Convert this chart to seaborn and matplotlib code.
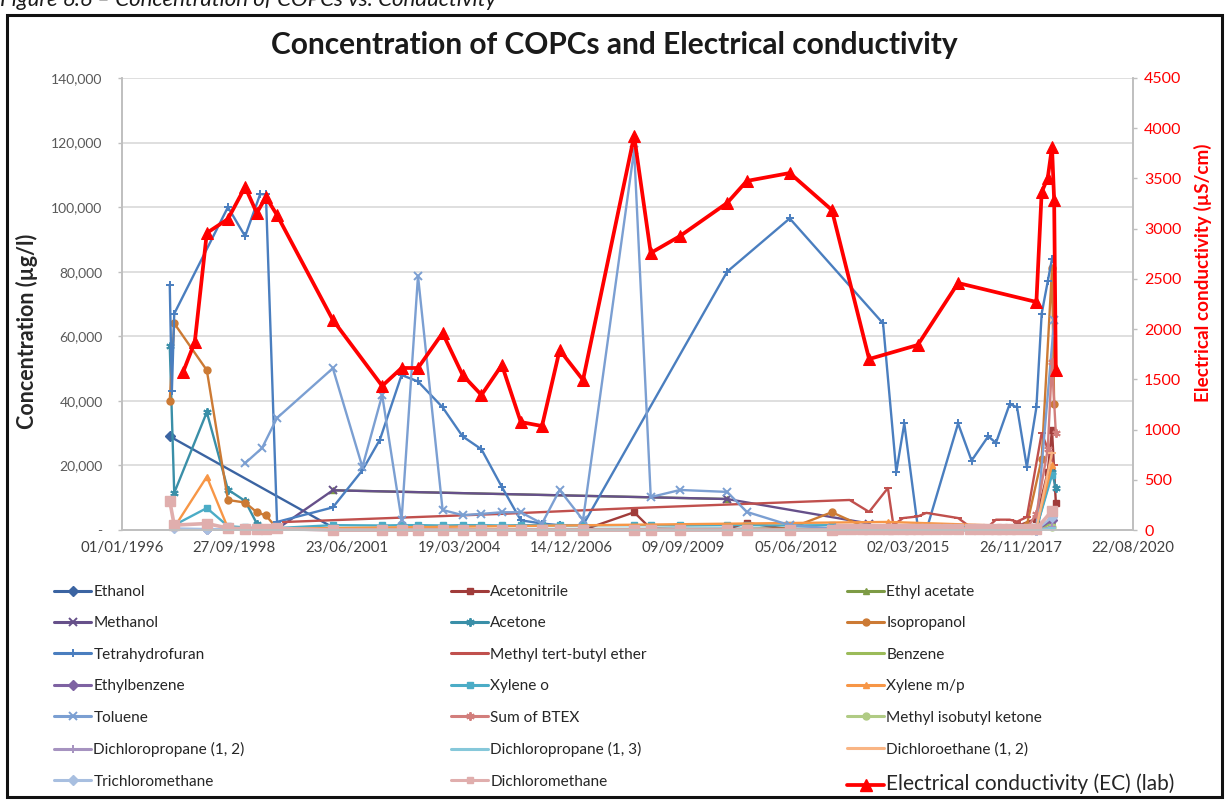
import pandas as pd
import matplotlib
matplotlib.use("Agg")
import matplotlib.pyplot as plt
from matplotlib.lines import Line2D
from matplotlib.patches import Rectangle
from matplotlib.ticker import FuncFormatter, MultipleLocator
import matplotlib.dates as mdates
import seaborn as sns

sns.set_theme(style="white")
plt.rcParams["font.family"] = ["Lato", "DejaVu Sans"]

# ---------------------------------------------------------------- data
early_dates = ["1997-03-01", "1997-04-10", "1998-01-25", "1998-08-01",
               "1999-01-01", "1999-04-15", "1999-07-05", "1999-10-12"]
mid_dates = ["2001-02-20", "2002-05-05", "2002-10-25", "2003-03-20", "2003-10-25",
             "2004-04-20", "2004-10-05", "2005-04-05", "2005-09-20", "2006-03-28",
             "2006-09-01", "2007-03-28", "2008-06-25", "2008-11-20", "2009-08-08",
             "2010-10-01", "2011-03-25", "2012-04-10", "2013-04-20"]
late_dates = ["2013-07-15", "2013-10-10", "2014-01-15", "2014-03-18", "2014-06-10",
              "2014-09-01", "2014-10-20", "2015-01-15", "2015-03-20", "2015-05-25",
              "2015-08-10", "2015-11-05", "2016-02-10", "2016-05-18", "2016-09-01",
              "2016-11-20", "2017-02-10", "2017-04-20", "2017-06-15", "2017-08-20",
              "2017-10-25", "2018-01-20", "2018-04-15"]

ethanol_dates = ["1997-03-01", "2001-02-20"]
ethanol_vals = [29000, 800]

acetonitrile_dates = ["2001-02-20", "2003-03-20", "2005-04-05", "2007-03-28", "2008-06-25",
                      "2008-11-20", "2009-08-08", "2010-10-01", "2011-03-25", "2012-04-10",
                      "2013-04-20", "2016-05-18", "2017-10-25", "2018-04-15", "2018-07-25",
                      "2018-09-01", "2018-10-05"]
acetonitrile_vals = [0, 0, 0, 0, 5500, 400, 300, 300, 2200, 200, 300, 200, 1200, 3500,
                     18000, 31000, 8500]

ethyl_acetate_dates = ["2001-02-20", "2010-10-01"]
ethyl_acetate_vals = [12300, 9600]

methanol_dates = ["1999-10-12", "2001-02-20", "2010-10-01", "2014-03-18"]
methanol_vals = [300, 12300, 9600, 2000]

acetone_dates = early_dates + ["2001-02-20", "2018-04-15", "2018-09-01", "2018-10-05"]
acetone_vals = [57000, 11500, 36500, 12500, 9000, 2000, 600, 300, 200, 500, 18000, 13000]

isopropanol_dates = early_dates + ["2001-02-20", "2003-10-25", "2006-03-28", "2009-08-08",
                                   "2012-04-10", "2013-04-20", "2014-03-18", "2018-01-20",
                                   "2018-06-01", "2018-09-01", "2018-09-20"]
isopropanol_vals = [40000, 64000, 49500, 9300, 8500, 5500, 4500, 500,
                    0, 0, 0, 0, 500, 5500, 300, 1500, 22000, 81000, 39000]

thf_dates = ["1997-03-01", "1997-03-20", "1997-04-10", "1998-08-01", "1999-01-01",
             "1999-05-15", "1999-07-05", "1999-10-12", "2001-02-20", "2001-11-10",
             "2002-04-15", "2002-10-25", "2003-03-20", "2003-10-25", "2004-04-20",
             "2004-10-05", "2005-04-05", "2005-09-20", "2006-03-28", "2006-09-01",
             "2007-03-28", "2010-10-01", "2012-04-10", "2014-07-20", "2014-11-15",
             "2015-01-25", "2015-05-25", "2015-08-10", "2016-05-18", "2016-09-15",
             "2017-02-10", "2017-04-20", "2017-08-20", "2017-10-25", "2018-01-20",
             "2018-04-15", "2018-06-01", "2018-07-25", "2018-09-01"]
thf_vals = [76000, 43000, 67000, 100000, 91000, 104000, 104000, 2500, 7000, 18500,
            28000, 48000, 46000, 38000, 29000, 25000, 13300, 3000, 2000, 1500,
            1500, 80000, 96500, 64000, 18000, 33000, 1000, 0, 33000, 21500,
            29000, 27000, 39000, 38000, 19500, 38000, 67000, 77000, 84000]

mtbe_dates = ["2000-01-01", "2005-04-05", "2008-06-25", "2013-09-25", "2014-03-18",
              "2014-09-01", "2014-10-20", "2015-01-15", "2015-05-25", "2015-08-10",
              "2016-05-18", "2016-09-01", "2017-02-10", "2017-04-20", "2017-08-20",
              "2017-10-25", "2018-01-20", "2018-06-01", "2018-09-20"]
mtbe_vals = [2500, 5000, 6800, 9300, 5600, 13000, 1500, 3700, 4200, 5300, 3700, 1000,
             1000, 3200, 3200, 2600, 4000, 30000, 20000]

benzene_dates = ["1998-01-25", "2018-04-15", "2018-09-01"]
benzene_vals = [100, 0, 2000]

ethylbenzene_dates = ["1998-01-25", "2001-02-20", "2018-04-15", "2018-09-01"]
ethylbenzene_vals = [200, 0, 0, 3000]

xylene_o_dates = early_dates[1:] + mid_dates + ["2018-04-15", "2018-09-01"]
xylene_o_vals = [1500, 6800, 1200, 800, 600, 600, 600,
                 1500, 1400, 1500, 1500, 1400, 1500, 1500, 1400, 1500, 1500,
                 1400, 1500, 1500, 1500, 1400, 1500, 1500, 1400, 1500, 500, 17000]

xylene_mp_dates = ["1997-04-10", "1998-01-25", "1998-08-01", "1999-01-01", "2014-09-01",
                   "2018-04-15", "2018-09-01"]
xylene_mp_vals = [800, 16500, 600, 300, 2500, 1000, 20000]

toluene_dates = ["1999-01-01", "1999-06-01", "1999-10-12", "2001-02-20", "2001-11-10",
                 "2002-05-05", "2002-10-25", "2003-03-20", "2003-10-25", "2004-04-20",
                 "2004-10-05", "2005-04-05", "2005-09-20", "2006-03-28", "2006-09-01",
                 "2007-03-28", "2008-06-25", "2008-11-20", "2009-08-08", "2010-10-01",
                 "2011-03-25", "2012-04-10", "2013-04-20", "2015-05-25", "2018-04-15",
                 "2018-09-20"]
toluene_vals = [20700, 25400, 34700, 50100, 19500, 41800, 3100, 78700, 6200, 4600,
                5000, 5500, 5500, 2000, 12400, 3100, 117700, 10200, 12400, 11800,
                5600, 1500, 500, 0, 500, 65000]

btex_dates = ["2013-04-20", "2014-09-01", "2016-05-18", "2018-01-20", "2018-04-15",
              "2018-07-25", "2018-09-01", "2018-10-05"]
btex_vals = [0, 1000, 300, 500, 5000, 25000, 52000, 30000]

mibk_dates = ["2001-02-20", "2018-04-15", "2018-09-01"]
mibk_vals = [0, 0, 1000]

dcp12_dates = ["2001-02-20", "2018-04-15", "2018-09-01"]
dcp12_vals = [0, 0, 800]

dcp13_dates = ["2001-02-20", "2018-04-15", "2018-09-01"]
dcp13_vals = [0, 0, 500]

dce12_dates = ["2013-04-20", "2014-09-01", "2018-04-15", "2018-09-01"]
dce12_vals = [0, 300, 500, 24000]

trichloromethane_dates = ["1997-04-10", "1998-01-25", "2001-02-20", "2013-04-20",
                          "2018-04-15", "2018-09-01"]
trichloromethane_vals = [500, 300, 0, 0, 0, 4000]

dichloromethane_dates = early_dates + mid_dates + late_dates + ["2018-09-01"]
dichloromethane_vals = ([9000, 1500, 2000, 600, 400, 300, 300, 500]
                        + [0, 0, 0, 0, 0, 0, 0, 0, 0, 0, 0, 0, 0, 0, 0, 0, 0, 0, 0]
                        + [300, 200, 300, 200, 300, 200, 300, 200, 300, 200, 300, 200,
                           300, 200, 300, 200, 300, 200, 300, 200, 300, 200, 300]
                        + [6000])

ec_dates = ["1997-06-27", "1997-10-10", "1998-01-25", "1998-08-01", "1999-01-01",
            "1999-04-15", "1999-07-05", "1999-10-12", "2001-02-20", "2002-05-05",
            "2002-10-25", "2003-03-20", "2003-10-25", "2004-04-20", "2004-10-05",
            "2005-04-05", "2005-09-20", "2006-03-28", "2006-09-01", "2007-03-28",
            "2008-06-25", "2008-11-20", "2009-08-08", "2010-10-01", "2011-03-25",
            "2012-04-10", "2013-04-20", "2014-03-18", "2015-05-25", "2016-05-18",
            "2018-04-15", "2018-06-01", "2018-07-25", "2018-09-01", "2018-09-20",
            "2018-10-05"]
ec_vals = [1570, 1872, 2957, 3096, 3415, 3156, 3315, 3136, 2091, 1434,
           1613, 1613, 1961, 1543, 1344, 1643, 1075, 1035, 1792, 1493,
           3923, 2758, 2927, 3256, 3475, 3554, 3186, 1702, 1842, 2459,
           2270, 3365, 3504, 3813, 3285, 1593]

x_ticks = pd.date_range("1996-01-01", periods=10, freq="1000D")

# name, dates, values, colour, marker
series = [
    ("Ethanol", ethanol_dates, ethanol_vals, "#3B64A2", "D"),
    ("Acetonitrile", acetonitrile_dates, acetonitrile_vals, "#A03C3A", "s"),
    ("Ethyl acetate", ethyl_acetate_dates, ethyl_acetate_vals, "#7D9B45", "^"),
    ("Methanol", methanol_dates, methanol_vals, "#66508A", "x"),
    ("Acetone", acetone_dates, acetone_vals, "#3A8FA8", (6, 2, 0)),
    ("Isopropanol", isopropanol_dates, isopropanol_vals, "#CC7A34", "o"),
    ("Tetrahydrofuran", thf_dates, thf_vals, "#4A7EBF", "+"),
    ("Methyl tert-butyl ether", mtbe_dates, mtbe_vals, "#C0504D", "_"),
    ("Benzene", benzene_dates, benzene_vals, "#9BBB59", "_"),
    ("Ethylbenzene", ethylbenzene_dates, ethylbenzene_vals, "#7E62A2", "D"),
    ("Xylene o", xylene_o_dates, xylene_o_vals, "#4BACC6", "s"),
    ("Xylene m/p", xylene_mp_dates, xylene_mp_vals, "#F79646", "^"),
    ("Toluene", toluene_dates, toluene_vals, "#7B9FD2", "x"),
    ("Sum of BTEX", btex_dates, btex_vals, "#D27E7C", (6, 2, 0)),
    ("Methyl isobutyl ketone", mibk_dates, mibk_vals, "#B0CB84", "o"),
    ("Dichloropropane (1, 2)", dcp12_dates, dcp12_vals, "#A693C0", "+"),
    ("Dichloropropane (1, 3)", dcp13_dates, dcp13_vals, "#86C8DA", "_"),
    ("Dichloroethane (1, 2)", dce12_dates, dce12_vals, "#F9B584", "_"),
    ("Trichloromethane", trichloromethane_dates, trichloromethane_vals, "#A8BFE0", "D"),
    ("Dichloromethane", dichloromethane_dates, dichloromethane_vals, "#E0AEAD", "s"),
]

# ---------------------------------------------------------------- figure
W, H = 1228, 801
fig = plt.figure(figsize=(W / 100, H / 100), dpi=100)
ax = fig.add_axes([122 / W, 1 - 530 / H, (1133 - 122) / W, (530 - 78) / H])
ax2 = ax.twinx()

line_kw = dict(estimator=None, sort=True, legend=False, clip_on=False)
handles = []
for name, dates, vals, col, mk in series:
    df = pd.DataFrame({"date": pd.to_datetime(dates), "value": vals})
    filled = mk in ("D", "s", "^", "o")
    ms = 5.0 if filled else 6.0
    mew = 1.0 if filled else 1.4
    # the dense low dichloromethane samples form a thick band along the baseline
    plot_ms = 7.0 if name == "Dichloromethane" else ms
    plot_lw = 2.6 if name == "Dichloromethane" else 1.7
    sns.lineplot(data=df, x="date", y="value", ax=ax, color=col, marker=mk,
                 markersize=plot_ms, markeredgecolor=col, markerfacecolor=col,
                 markeredgewidth=mew, linewidth=plot_lw, **line_kw)
    handles.append(Line2D([], [], color=col, lw=2.2, marker=mk, markersize=ms,
                          markeredgecolor=col, markerfacecolor=col,
                          markeredgewidth=mew, label=name))

ec_df = pd.DataFrame({"date": pd.to_datetime(ec_dates), "value": ec_vals})
sns.lineplot(data=ec_df, x="date", y="value", ax=ax2, color="#FF0000", marker="^",
             markersize=9, markeredgecolor="#FF0000", markerfacecolor="#FF0000",
             linewidth=2.7, **line_kw)
handles.append(Line2D([], [], color="#FF0000", lw=2.7, marker="^", markersize=8,
                      markeredgecolor="#FF0000", markerfacecolor="#FF0000",
                      label="Electrical conductivity (EC) (lab)"))

# ---------------------------------------------------------------- axes styling
ax.set_xlim(pd.Timestamp("1996-01-01"), pd.Timestamp("2020-08-22"))
ax.set_ylim(0, 140000)
ax2.set_ylim(0, 4500)
ax.set_xticks(x_ticks)
ax.xaxis.set_major_formatter(mdates.DateFormatter("%d/%m/%Y"))
ax.yaxis.set_major_locator(MultipleLocator(20000))
ax.yaxis.set_major_formatter(FuncFormatter(lambda v, p: "-" if v == 0 else f"{v:,.0f}"))
ax2.yaxis.set_major_locator(MultipleLocator(500))
ax2.yaxis.set_major_formatter(FuncFormatter(lambda v, p: f"{v:.0f}"))

ax.yaxis.grid(True, color="#D9D9D9", linewidth=1.2)
ax.xaxis.grid(False)
ax2.grid(False)
ax.set_axisbelow(True)

axis_grey = "#BFBFBF"
for a in (ax, ax2):
    a.spines["top"].set_visible(False)
    for side in ("left", "right", "bottom"):
        a.spines[side].set_color(axis_grey)
        a.spines[side].set_linewidth(1.2)

ax.tick_params(axis="y", which="major", direction="out", length=3, width=1,
               color=axis_grey, labelsize=10, labelcolor="#595959", pad=11, left=True)
ax.tick_params(axis="x", which="major", length=0, labelsize=10.8, labelcolor="#404040", pad=8)
ax2.tick_params(axis="y", which="major", direction="out", length=3, width=1,
                color=axis_grey, labelsize=11.5, labelcolor="#FF0000", pad=5, right=True)

ax.set_xlabel("")
ax.set_ylabel("Concentration (µg/l)", fontsize=15.5, fontweight="bold", color="#262626")
ax.yaxis.set_label_coords(-0.083, 0.44)
ax2.set_ylabel("Electrical conductivity (µS/cm)", fontsize=13.6, fontweight="bold",
               color="#FF0000")
ax2.yaxis.set_label_coords(1.060, 0.57)

# ---------------------------------------------------------------- title, frame
fig.text(0.5, 1 - 45 / H, "Concentration of COPCs and Electrical conductivity",
         ha="center", va="center", fontsize=21.5, fontweight="bold", color="#1A1A1A")
fig.text(0.0, 1 - 6 / H, "Figure 6.6 \u2013 Concentration of COPCs vs. Conductivity",
         ha="left", va="baseline", fontsize=16, fontstyle="italic", color="#1A1A1A")
fig.patches.append(Rectangle((7 / W, 1 - 797 / H), (1222 - 7) / W, (797 - 15) / H,
                             transform=fig.transFigure, fill=False,
                             edgecolor="#111111", linewidth=2.2))

# ---------------------------------------------------------------- legend (3 columns)
col_x = [54, 451, 847]
for c in range(3):
    hs = handles[c::3]
    leg = fig.legend(handles=hs, loc="upper left",
                     bbox_to_anchor=(col_x[c] / W, 1 - 585 / H),
                     frameon=False, fontsize=11.1, handlelength=2.4,
                     handletextpad=0.15, labelspacing=1.13, borderpad=0,
                     borderaxespad=0)
    for t in leg.get_texts():
        t.set_color("#262626")
        if t.get_text().startswith("Electrical"):
            t.set_fontsize(15.0)

fig.savefig("out.png", dpi=100)
